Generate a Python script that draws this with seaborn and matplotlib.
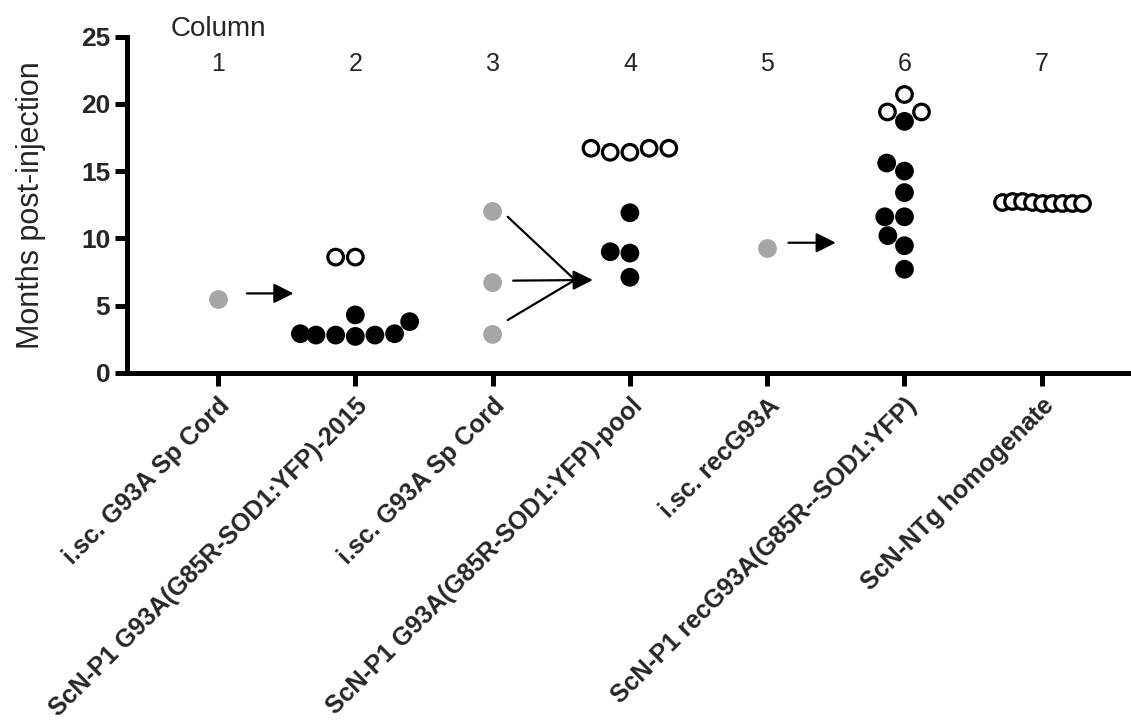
import matplotlib
matplotlib.use('Agg')
from matplotlib import pyplot as plt
import pandas as pd
import seaborn as sns

columns = [1, 2, 3, 4, 5, 6, 7]
column_labels = ['i.sc. G93A Sp Cord',
                 'ScN-P1 G93A(G85R-SOD1:YFP)-2015',
                 'i.sc. G93A Sp Cord',
                 'ScN-P1 G93A(G85R-SOD1:YFP)-pool',
                 'i.sc. recG93A',
                 'ScN-P1 recG93A(G85R--SOD1:YFP)',
                 'ScN-NTg homogenate']

# months post-injection
# gray = inoculum, filled = sick, open = no disease
col1_inoculum = [5.5]
col2_sick = [2.9, 3.8, 4.3, 2.9, 2.8, 2.8, 2.8, 2.7]
col2_healthy = [8.6, 8.6]
col3_inoculum = [12.0, 6.7, 2.85]
col4_sick = [11.9, 9.0, 8.9, 7.1]
col4_healthy = [16.4, 16.7, 16.7, 16.7, 16.4]
col5_inoculum = [9.3]
col6_sick = [18.7, 15.6, 15.0, 13.4, 11.6, 11.6, 10.2, 9.45, 7.7]
col6_healthy = [20.7, 19.4, 19.4]
col7_healthy = [12.7, 12.8, 12.8, 12.7, 12.6, 12.6, 12.6, 12.6, 12.6]

rows = []
def add(col, vals, kind):
    for v in vals:
        rows.append((col, v, kind))

add(1, col1_inoculum, 'inoculum')
add(2, col2_sick, 'sick')
add(2, col2_healthy, 'healthy')
add(3, col3_inoculum, 'inoculum')
add(4, col4_sick, 'sick')
add(4, col4_healthy, 'healthy')
add(5, col5_inoculum, 'inoculum')
add(6, col6_sick, 'sick')
add(6, col6_healthy, 'healthy')
add(7, col7_healthy, 'healthy')
df = pd.DataFrame(rows, columns=['column', 'months', 'kind'])

sns.set_style('ticks')
plt.rcParams['font.family'] = ['Liberation Sans', 'DejaVu Sans']

fig = plt.figure(figsize=(11.31, 7.25), dpi=100)
ax = fig.add_axes([127 / 1131, (725 - 372.7) / 725, 1 - 127 / 1131, 336 / 725])

pal = {'inoculum': '#a6a6a8', 'sick': 'black', 'healthy': 'white'}
msize = 11.2
lw = 2.3

sns.swarmplot(data=df[df.column != 7], x='column', y='months', hue='kind',
              order=columns, palette=pal, size=msize, linewidth=lw,
              legend=False, ax=ax)

# column 7: a packed row of overlapping circles, spread via dodge
ntg = df[df.column == 7].copy()
ntg['rep'] = ['r%d' % (i + 1) for i in range(len(ntg))]
levels = ['r%d' % i for i in range(len(ntg) + 2)]
sns.stripplot(data=ntg, x='column', y='months', hue='rep', hue_order=levels,
              order=columns, dodge=True, jitter=False,
              palette={l: 'white' for l in levels}, size=msize, linewidth=lw,
              legend=False, ax=ax)

for coll in ax.collections:
    fc = coll.get_facecolors()
    if len(fc) == 0:
        continue
    ec = fc.copy()
    white = (fc[:, :3] > 0.99).all(axis=1)
    ec[white] = (0, 0, 0, 1)
    coll.set_edgecolors(ec)
    coll.set_linewidth(lw)

# arrows from inoculum to passage
arrow = dict(arrowstyle='-|>,head_length=0.6,head_width=0.3', color='black',
             lw=1.6, shrinkA=0, shrinkB=0, mutation_scale=20)
ax.annotate('', xy=(0.55, 5.9), xytext=(0.21, 5.9), arrowprops=arrow)
ax.annotate('', xy=(4.50, 9.67), xytext=(4.155, 9.67), arrowprops=arrow)
ax.annotate('', xy=(2.73, 6.9), xytext=(2.15, 6.85), arrowprops=arrow)
ax.plot([2.11, 2.6], [11.6, 6.9], color='black', lw=1.6)
ax.plot([2.11, 2.6], [3.92, 6.9], color='black', lw=1.6)

ax.set_xlim(-0.663, 6.65)
ax.set_ylim(0, 25)
ax.set_yticks([0, 5, 10, 15, 20, 25])
ax.set_xticks(range(len(columns)))
ax.set_xticklabels(column_labels, rotation=45, ha='right', va='top',
                   rotation_mode='anchor', fontweight='bold', fontsize=18)
for lab in ax.get_yticklabels():
    lab.set_fontweight('bold')
    lab.set_fontsize(19)
ax.set_xlabel('')
ax.set_ylabel('Months post-injection', fontsize=22)
ax.yaxis.set_label_coords(-0.081, 0.5)

sns.despine(ax=ax)
for side in ['left', 'bottom']:
    ax.spines[side].set_linewidth(3.6)
    ax.spines[side].set_color('black')
ax.tick_params(axis='both', length=9, width=3.6, color='black', pad=3)
ax.tick_params(axis='x', pad=6)

# column numbering
ax.text(0, 25.55, 'Column', ha='center', va='center', fontsize=20, clip_on=False)
for i, c in enumerate(columns):
    ax.text(i, 22.95, str(c), ha='center', va='center', fontsize=18)

fig.savefig('out.png', dpi=100)
